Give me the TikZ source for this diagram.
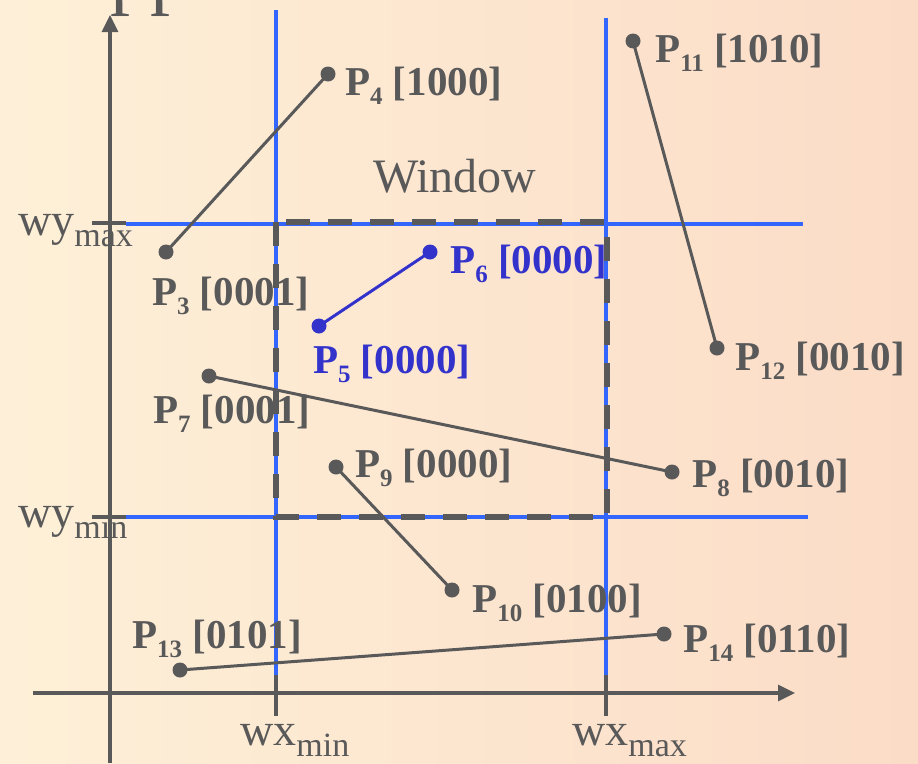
\documentclass[tikz,border=0pt]{standalone}
\usepackage{fontspec}
\setmainfont{Liberation Serif}
\usetikzlibrary{arrows.meta}
\definecolor{txt}{HTML}{595959}
\definecolor{bl}{HTML}{3366FF}
\definecolor{pb}{HTML}{3333CC}
\definecolor{bgl}{HTML}{FEF0D8}
\definecolor{bgr}{HTML}{FBDCC7}
\newcommand\lbl[2]{\fontsize{41}{41}\selectfont\bfseries P\raisebox{-9pt}{\fontsize{25}{25}\selectfont #1} [#2]}
\newcommand\wlab[2]{\fontsize{46}{46}\selectfont #1\raisebox{-11pt}{\fontsize{34}{34}\selectfont #2}}
\begin{document}
\begin{tikzpicture}[x=1pt,y=-1pt,
  dot/.style={circle,fill=txt,inner sep=0pt,minimum size=15pt},
  bdot/.style={circle,fill=pb,inner sep=0pt,minimum size=15pt},
  lab/.style={anchor=base west,inner sep=0pt,text=txt},
  blab/.style={anchor=base west,inner sep=0pt,text=pb},
  seg/.style={draw=txt,line width=3pt},
  bseg/.style={draw=pb,line width=3pt},
  axis/.style={draw=txt,line width=3.2pt},
  bline/.style={draw=bl,line width=3.4pt},
  winrect/.style={draw=txt,line width=5.5pt,dash pattern=on 24pt off 18pt}]
\useasboundingbox (0,0) rectangle (918,763);
\shade[left color=bgl,right color=bgr] (0,0) rectangle (918,763);
% cut-off title
\node[anchor=base west,inner sep=0pt,text=txt] (title) at (-65,-1) {\fontsize{80}{80}\selectfont be clipped};
% blue window lines
\coordinate (vx1t) at (276,10);  \coordinate (vx1b) at (276,675);
\coordinate (vx2t) at (606,18);  \coordinate (vx2b) at (606,675);
\coordinate (hy1l) at (126,224); \coordinate (hy1r) at (803,224);
\coordinate (hy2l) at (126,517); \coordinate (hy2r) at (808,517);
\draw[bline] (vx1t) -- (vx1b);
\draw[bline] (vx2t) -- (vx2b);
\draw[bline] (hy1l) -- (hy1r);
\draw[bline] (hy2l) -- (hy2r);
% axes
\coordinate (yb) at (110,763); \coordinate (yt) at (110,15);
\coordinate (xl) at (33,693);  \coordinate (xr) at (795,693);
\draw[axis,-{Triangle[width=16pt,length=17pt]}] (yb) -- (yt);
\draw[axis,-{Triangle[width=16pt,length=17pt]}] (xl) -- (xr);
% ticks
\coordinate (t1a) at (92,223);  \coordinate (t1b) at (126,223);
\coordinate (t2a) at (92,517);  \coordinate (t2b) at (126,517);
\coordinate (t3a) at (276,675); \coordinate (t3b) at (276,716);
\coordinate (t4a) at (606,675); \coordinate (t4b) at (606,716);
\draw[axis] (t1a) -- (t1b);
\draw[axis] (t2a) -- (t2b);
\draw[axis] (t3a) -- (t3b);
\draw[axis] (t4a) -- (t4b);
% axis labels
\node[lab] (wymax) at (18,235) {\wlab{wy}{max}};
\node[lab] (wymin) at (18,527) {\wlab{wy}{min}};
\node[lab] (wxmin) at (240,745) {\wlab{wx}{min}};
\node[lab] (wxmax) at (572,745) {\wlab{wx}{max}};
% window
\node[lab] (wlabel) at (373,192) {\fontsize{48}{48}\selectfont Window};
\draw[winrect] (276,222) rectangle (607,517);
% points
\node[dot] (p3) at (166,252) {};
\node[dot] (p4) at (328,74) {};
\node[bdot] (p5) at (319,326) {};
\node[bdot] (p6) at (430,252) {};
\node[dot] (p7) at (209,376) {};
\node[dot] (p8) at (672,472) {};
\node[dot] (p9) at (336,467) {};
\node[dot] (p10) at (452,590) {};
\node[dot] (p11) at (633,41) {};
\node[dot] (p12) at (717,348) {};
\node[dot] (p13) at (180,670) {};
\node[dot] (p14) at (664,634) {};
\draw[seg] (p3.center) -- (p4.center);
\draw[bseg] (p5.center) -- (p6.center);
\draw[seg] (p7.center) -- (p8.center);
\draw[seg] (p9.center) -- (p10.center);
\draw[seg] (p11.center) -- (p12.center);
\draw[seg] (p13.center) -- (p14.center);
% labels
\node[lab] (l3) at (152,305) {\lbl{3}{0001}};
\node[lab] (l4) at (345,95) {\lbl{4}{1000}};
\node[blab] (l5) at (313,373) {\lbl{5}{0000}};
\node[blab] (l6) at (450,273) {\lbl{6}{0000}};
\node[lab] (l7) at (153,423) {\lbl{7}{0001}};
\node[lab] (l8) at (692,487) {\lbl{8}{0010}};
\node[lab] (l9) at (355,477) {\lbl{9}{0000}};
\node[lab] (l10) at (472,612) {\lbl{10}{0100}};
\node[lab] (l11) at (655,62) {\lbl{11}{1010}};
\node[lab] (l12) at (735,370) {\lbl{12}{0010}};
\node[lab] (l13) at (132,648) {\lbl{13}{0101}};
\node[lab] (l14) at (683,652) {\lbl{14}{0110}};
\end{tikzpicture}
\end{document}
